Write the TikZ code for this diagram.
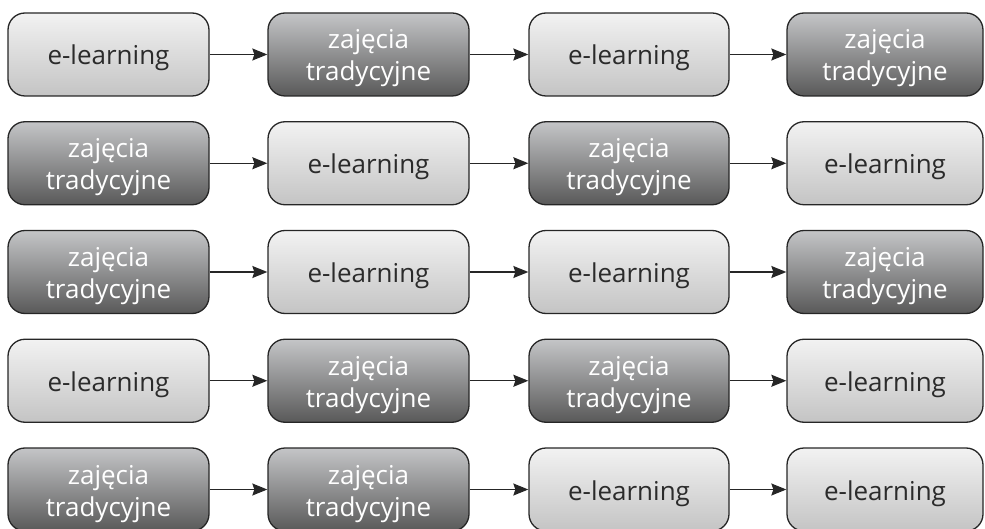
\documentclass[tikz,border=0pt]{standalone}
\usepackage{fontspec}
\setmainfont{Open Sans}
\usetikzlibrary{arrows.meta}

\definecolor{lighttop}{HTML}{F2F2F2}
\definecolor{lightbot}{HTML}{C4C4C4}
\definecolor{darktop}{HTML}{C4C5C7}
\definecolor{darkbot}{HTML}{595959}
\definecolor{ink}{HTML}{2B2B2B}
\definecolor{edge}{HTML}{262626}

\tikzset{
  box/.style={rounded corners=17pt, minimum height=83pt, inner sep=0pt,
    draw=edge, line width=1.3pt, align=center, text depth=6pt,
    font=\fontsize{26}{32}\selectfont},
  % one line of dark text on a light gradient
  elbox/.style={box, top color=lighttop, bottom color=lightbot, text=ink,
    text height=27pt},
  % two lines of white text on a dark gradient
  zbox/.style={box, top color=darktop, bottom color=darkbot, text=white,
    text height=59pt},
  c1/.style={minimum width=201pt},
  c2/.style={minimum width=201pt},
  c3/.style={minimum width=200pt},
  c4/.style={minimum width=196pt},
  link/.style={draw=edge, line width=1.3pt,
    -{Stealth[length=15pt, width=12pt, inset=2pt]}}
}

\newcommand{\el}{e-learning}
\newcommand{\zt}{zajęcia\\tradycyjne}

\begin{document}
\begin{tikzpicture}[x=1pt, y=-1pt]
  \useasboundingbox (0,0) rectangle (985,529);

  % row 1
  \node[elbox,c1] (r1c1) at (108.5, 54.5) {\el};
  \node[zbox,c2]  (r1c2) at (368.5, 54.5) {\zt};
  \node[elbox,c3] (r1c3) at (629,   54.5) {\el};
  \node[zbox,c4]  (r1c4) at (885,   54.5) {\zt};
  % row 2
  \node[zbox,c1]  (r2c1) at (108.5, 163.25) {\zt};
  \node[elbox,c2] (r2c2) at (368.5, 163.25) {\el};
  \node[zbox,c3]  (r2c3) at (629,   163.25) {\zt};
  \node[elbox,c4] (r2c4) at (885,   163.25) {\el};
  % row 3
  \node[zbox,c1]  (r3c1) at (108.5, 272) {\zt};
  \node[elbox,c2] (r3c2) at (368.5, 272) {\el};
  \node[elbox,c3] (r3c3) at (629,   272) {\el};
  \node[zbox,c4]  (r3c4) at (885,   272) {\zt};
  % row 4
  \node[elbox,c1] (r4c1) at (108.5, 380.75) {\el};
  \node[zbox,c2]  (r4c2) at (368.5, 380.75) {\zt};
  \node[zbox,c3]  (r4c3) at (629,   380.75) {\zt};
  \node[elbox,c4] (r4c4) at (885,   380.75) {\el};
  % row 5
  \node[zbox,c1]  (r5c1) at (108.5, 489.5) {\zt};
  \node[zbox,c2]  (r5c2) at (368.5, 489.5) {\zt};
  \node[elbox,c3] (r5c3) at (629,   489.5) {\el};
  \node[elbox,c4] (r5c4) at (885,   489.5) {\el};

  % arrows along each row
  \foreach \r in {1,...,5}{
    \foreach \a/\b in {1/2,2/3,3/4}{
      \draw[link] (r\r c\a.east) -- (r\r c\b.west);
    }
  }
\end{tikzpicture}
\end{document}
